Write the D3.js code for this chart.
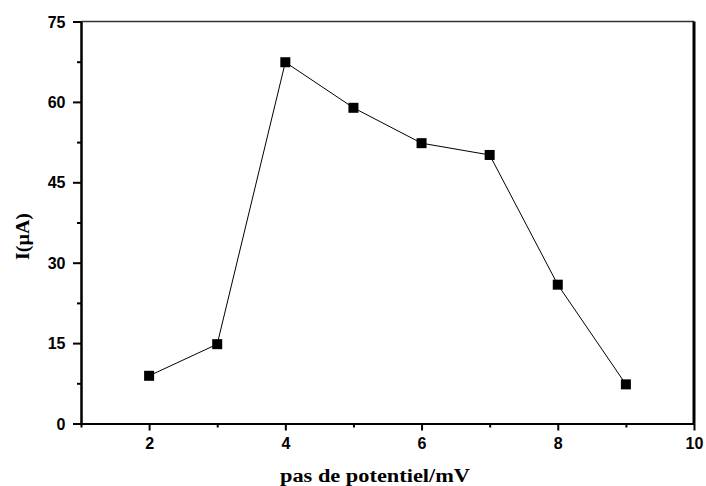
<!DOCTYPE html>
<html>
<head>
<meta charset="utf-8">
<script src="https://cdn.jsdelivr.net/npm/d3@7"></script>
<style>
  html, body { margin: 0; padding: 0; background: #fff; }
  svg { display: block; }
</style>
</head>
<body>
<svg id="chart" width="706" height="486"></svg>
<script>
// Current vs. potential step
const steps = [2, 3, 4, 5, 6, 7, 8, 9];
const current = [8.9, 14.8, 67.4, 58.9, 52.3, 50.1, 25.9, 7.3];
const xMajorTicks = [2, 4, 6, 8, 10];
const xMinorTicks = [1, 3, 5, 7, 9];
const yMajorTicks = [0, 15, 30, 45, 60, 75];
const yMinorTicks = [7.5, 22.5, 37.5, 52.5, 67.5];

const svg = d3.select("#chart");
const m = { left: 81, right: 694, top: 21.5, bottom: 423.5 };

const x = d3.scaleLinear().domain([1, 10]).range([m.left, m.right]);
const y = d3.scaleLinear().domain([0, 75]).range([m.bottom, m.top]);

const tickFont = "'Liberation Sans', Arial, sans-serif";
const titleFont = "'Liberation Serif', 'Times New Roman', serif";

// Frame: top and right edges
svg.append("line").attr("x1", m.left).attr("x2", m.right).attr("y1", m.top).attr("y2", m.top)
  .attr("stroke", "#333").attr("stroke-width", 1.5);
svg.append("line").attr("x1", m.right).attr("x2", m.right).attr("y1", m.top).attr("y2", m.bottom)
  .attr("stroke", "#000").attr("stroke-width", 3);

// Bottom axis
const xAxisMajor = d3.axisBottom(x).tickValues(xMajorTicks).tickSize(7).tickPadding(7.5).tickSizeOuter(0);
const xAxisMinor = d3.axisBottom(x).tickValues(xMinorTicks).tickSize(4).tickFormat("").tickSizeOuter(0);
const gx = svg.append("g").attr("transform", `translate(0,${m.bottom})`).call(xAxisMajor);
const gxm = svg.append("g").attr("transform", `translate(0,${m.bottom})`).call(xAxisMinor);

// Left axis
const yAxisMajor = d3.axisLeft(y).tickValues(yMajorTicks).tickSize(8).tickPadding(7.5).tickSizeOuter(0);
const yAxisMinor = d3.axisLeft(y).tickValues(yMinorTicks).tickSize(4).tickFormat("").tickSizeOuter(0);
const gy = svg.append("g").attr("transform", `translate(${m.left},0)`).call(yAxisMajor);
const gym = svg.append("g").attr("transform", `translate(${m.left},0)`).call(yAxisMinor);

[gx, gxm, gy, gym].forEach(g => {
  g.selectAll("path.domain").attr("stroke", "#000").attr("stroke-width", 2);
  g.selectAll(".tick line").attr("stroke", "#000").attr("stroke-width", 2);
  g.selectAll(".tick text")
    .attr("font-family", tickFont)
    .attr("font-weight", "bold")
    .attr("font-size", 16)
    .attr("fill", "#000");
});
gy.selectAll(".tick text").attr("dy", "0.35em");

// Axis titles
svg.append("text")
  .attr("x", 375)
  .attr("y", 481.5)
  .attr("text-anchor", "middle")
  .attr("font-family", titleFont)
  .attr("font-weight", "bold")
  .attr("font-size", 18)
  .attr("textLength", 190)
  .attr("lengthAdjust", "spacingAndGlyphs")
  .text("pas de potentiel/mV");

svg.append("text")
  .attr("transform", `translate(29,236.5) rotate(-90)`)
  .attr("text-anchor", "middle")
  .attr("font-family", titleFont)
  .attr("font-weight", "bold")
  .attr("font-size", 18)
  .attr("textLength", 47)
  .attr("lengthAdjust", "spacingAndGlyphs")
  .text("I(µA)");

// Data line and square markers
const pts = steps.map((s, i) => ({ s, v: current[i] }));
svg.append("path")
  .datum(pts)
  .attr("fill", "none")
  .attr("stroke", "#000")
  .attr("stroke-width", 1)
  .attr("d", d3.line().x(d => x(d.s)).y(d => y(d.v)));

const sz = 10;
svg.selectAll("rect.pt")
  .data(pts)
  .join("rect")
  .attr("class", "pt")
  .attr("x", d => x(d.s) - sz / 2)
  .attr("y", d => y(d.v) - sz / 2)
  .attr("width", sz)
  .attr("height", sz)
  .attr("fill", "#000");
</script>
</body>
</html>
